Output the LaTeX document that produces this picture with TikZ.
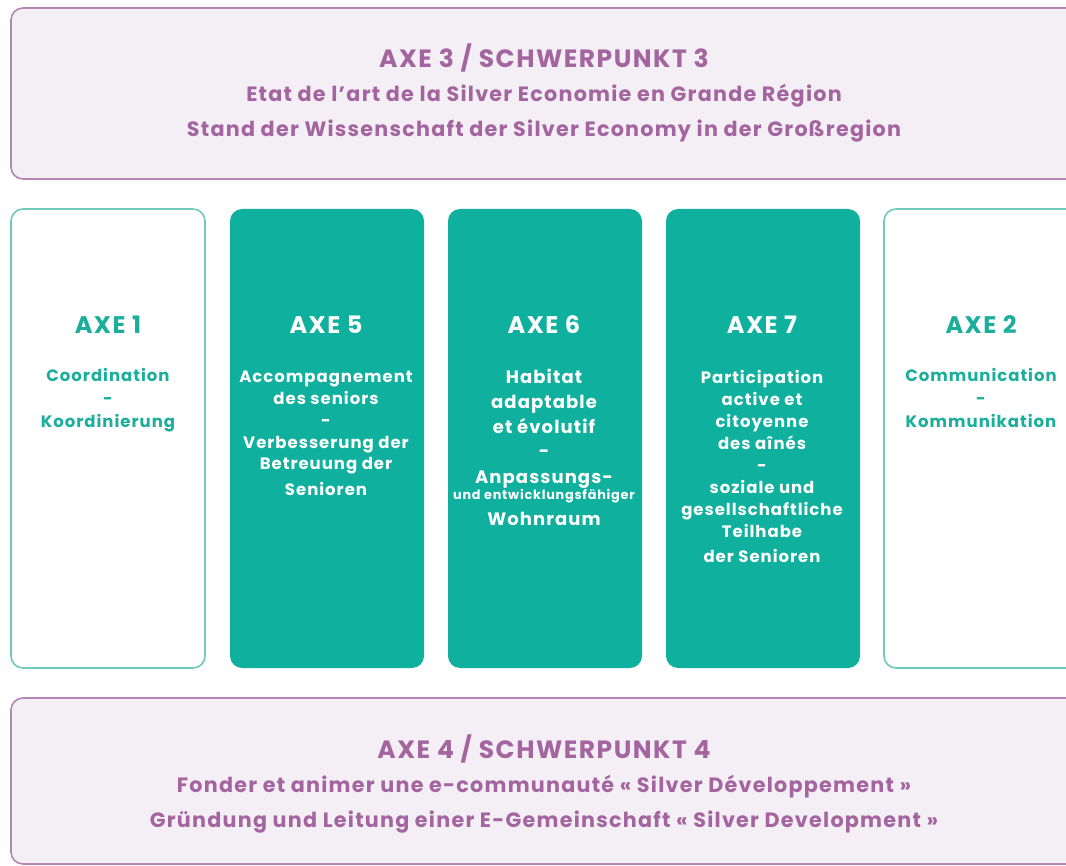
\documentclass[tikz,border=0pt]{standalone}
\usepackage{fontspec}
\setmainfont{Poppins}[LetterSpace = 6]

\definecolor{axeteal}{HTML}{0FB09E}
\definecolor{axetealline}{HTML}{70CABA}
\definecolor{axetealtext}{HTML}{1AAE9B}
\definecolor{axepurple}{HTML}{A3649F}
\definecolor{axepurpleline}{HTML}{B585B5}
\definecolor{axepurplefill}{HTML}{F4EFF5}

\tikzset{
	band/.style = {rounded corners = 12pt, line width = 1.6pt, draw = axepurpleline, fill = axepurplefill},
	openaxe/.style = {rounded corners = 12pt, line width = 1.6pt, draw = axetealline, fill = white},
	fullaxe/.style = {rounded corners = 12pt, draw = none, fill = axeteal},
	bandtitle/.style = {anchor = base, inner sep = 0, text = axepurple, font = \bfseries\fontsize{25}{29}\selectfont},
	bandline/.style = {anchor = base, inner sep = 0, text = axepurple, font = \bfseries\fontsize{20.7}{24}\selectfont},
	axetitle/.style = {anchor = base, inner sep = 0, font = \bfseries\fontsize{24}{28}\selectfont},
	axetext/.style = {anchor = base, inner sep = 0, align = center, font = \bfseries\fontsize{16.5}{22}\selectfont}
}

\begin{document}
\begin{tikzpicture}[x = 1pt, y = -1pt]
	
	\useasboundingbox (0, 0) rectangle (1066, 866);
	\clip (0, 0) rectangle (1066, 866);
	
	% The two bands
	
	\draw [band] (11, 8) rectangle (1078, 179);
	\draw [band] (11, 698) rectangle (1078, 864);
	
	\node [bandtitle] (axe3) at (544, 68) {AXE 3 / SCHWERPUNKT 3};
	\node [bandline] (axe3fr) at (544, 102) {Etat de l’art de la Silver Economie en Grande Région};
	\node [bandline] (axe3de) at (544, 137) {Stand der Wissenschaft der Silver Economy in der Großregion};
	
	\node [bandtitle] (axe4) at (544, 758) {AXE 4 / SCHWERPUNKT 4};
	\node [bandline] (axe4fr) at (544, 792) {Fonder et animer une e-communauté « Silver Développement »};
	\node [bandline] (axe4de) at (544, 827) {Gründung und Leitung einer E-Gemeinschaft « Silver Development »};
	
	% The columns
	
	\draw [openaxe] (11, 209) rectangle (205, 668);
	\foreach \x in {230, 448, 666}
		\draw [fullaxe] (\x, 209) rectangle (\x + 194, 668);
	\draw [openaxe] (884, 209) rectangle (1078, 668);
	
	% Axe 1 and Axe 2 (texts anchored at their last line)
	
	\node [axetitle, text = axetealtext] (axe1) at (108, 334) {AXE 1};
	\node [axetext, text = axetealtext, font = \bfseries\fontsize{16.5}{23}\selectfont] (axe1txt) at (108, 428) {Coordination\\-\\Koordinierung};
	
	\node [axetitle, text = axetealtext] (axe2) at (981, 334) {AXE 2};
	\node [axetext, text = axetealtext, font = \bfseries\fontsize{16.5}{23}\selectfont] (axe2txt) at (981, 428) {Communication\\-\\Kommunikation};
	
	% Axe 5, 6 and 7
	
	\node [axetitle, text = white] (axe5) at (326, 334) {AXE 5};
	\node [axetext, text = white] (axe5txt) at (326, 495) {Accompagnement\\des seniors\\-\\Verbesserung der\\Betreuung der\\[3pt]Senioren};
	
	\node [axetitle, text = white] (axe6) at (544, 334) {AXE 6};
	\node [axetext, text = white, font = \bfseries\fontsize{18}{25}\selectfont] (axe6txt) at (544, 525) {Habitat\\adaptable\\et évolutif\\-\\Anpassungs-\\[-8pt]{\fontsize{12.8}{13}\selectfont und entwicklungsfähiger}\\Wohnraum};
	
	\node [axetitle, text = white] (axe7) at (762, 334) {AXE 7};
	\node [axetext, text = white] (axe7txt) at (762, 562) {Participation\\active et\\citoyenne\\des aînés\\-\\soziale und\\gesellschaftliche\\Teilhabe\\[3pt]der Senioren};

\end{tikzpicture}
\end{document}
